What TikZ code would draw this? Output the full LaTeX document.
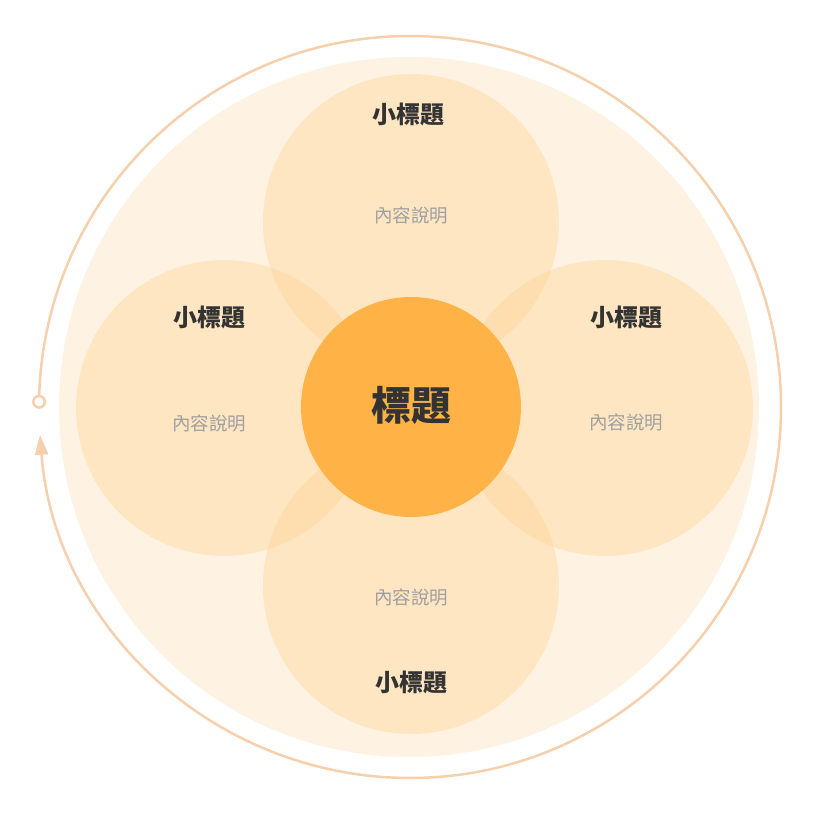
\documentclass[tikz,border=0pt]{standalone}
\usepackage{fontspec}
\newfontfamily\cjk{Noto Sans CJK TC}
\usetikzlibrary{arrows.meta, calc}

\definecolor{ringline}{HTML}{F6CFAC}
\definecolor{bgdisc}{HTML}{FEF2E2}
\definecolor{petal}{HTML}{FED08C}
\definecolor{hub}{HTML}{FFB347}
\definecolor{titletext}{HTML}{333333}
\definecolor{desctext}{HTML}{A0A0A0}

\tikzset{
  petalcirc/.style={circle, fill=petal, fill opacity=0.35, minimum size=296pt, inner sep=0pt},
  hubcirc/.style={circle, fill=hub, minimum size=220pt, inner sep=0pt},
  subtitle/.style={font=\cjk\bfseries\fontsize{24}{28}\selectfont, text=titletext},
  desc/.style={font=\cjk\fontsize{18.5}{22}\selectfont, text=desctext},
  maintitle/.style={font=\cjk\bfseries\fontsize{40}{46}\selectfont, text=titletext},
}

\begin{document}
\begin{tikzpicture}[x=1pt, y=1pt]
\useasboundingbox (0,0) rectangle (818,815);
% Ring radius and centre
\def\ringr{371pt}
\coordinate (ringc) at (410,408);

% Background disc
\fill[bgdisc] (409,408) circle (350pt);

% Outer ring with start marker and arrow
\coordinate (ringstart) at ($(ringc)+(179.2:\ringr)$);
\draw[ringline, line width=2.5pt, -{Triangle[width=13pt,length=20pt]}] (ringstart) arc[start angle=179.2, end angle=-175.7, radius=\ringr];
\node[circle, draw=ringline, line width=2.5pt, fill=white, minimum size=11.5pt, inner sep=0pt] (marker) at (ringstart) {};

% Four petals
\node[petalcirc] (ptop) at (411,593) {};
\node[petalcirc] (pleft) at (224,407) {};
\node[petalcirc] (pright) at (605,407) {};
\node[petalcirc] (pbottom) at (411,229) {};

% Centre
\node[hubcirc] (hub) at (411,408) {};
\node[maintitle] (hubtitle) at (411,410) {標題};

% Petal texts
\node[subtitle] (ttop) at (408,701) {小標題};
\node[desc] (dtop) at (411,600) {內容說明};
\node[subtitle] (tleft) at (209,498) {小標題};
\node[desc] (dleft) at (209,392) {內容說明};
\node[subtitle] (tright) at (626,498) {小標題};
\node[desc] (dright) at (626,393) {內容說明};
\node[desc] (dbottom) at (411,218) {內容說明};
\node[subtitle] (tbottom) at (411,133) {小標題};
\end{tikzpicture}
\end{document}
